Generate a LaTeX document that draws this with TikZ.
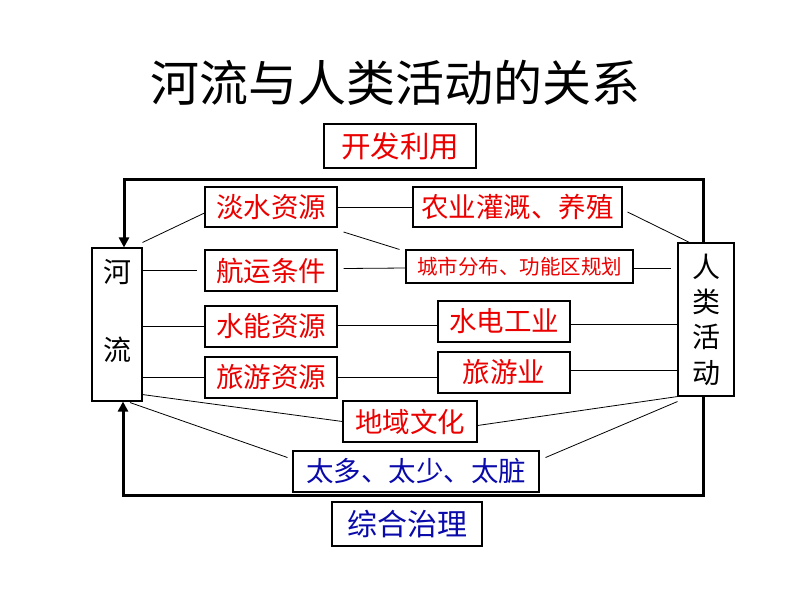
\documentclass[tikz,border=0pt]{standalone}
\usepackage{fontspec}
\setmainfont{Noto Sans CJK SC}
\newfontfamily\cjk{Noto Sans CJK SC}
\usetikzlibrary{calc,arrows.meta}
\definecolor{tred}{RGB}{235,0,0}
\definecolor{tblue}{RGB}{10,10,170}
\tikzset{
  box/.style={draw=black, line width=1.1pt, inner sep=0pt, anchor=center, font=\cjk\fontsize{27.5}{30}\selectfont},
  redbox/.style={box, text=tred},
  bluebox/.style={box, text=tblue},
  link/.style={draw=black, line width=0.8pt},
  heavy/.style={draw=black, line width=3pt},
  lbl/.style={inner sep=0pt, font=\cjk\fontsize{28}{30}\selectfont}
}
\begin{document}
\begin{tikzpicture}[x=1pt,y=-1pt]
\useasboundingbox[fill=white] (0,0) rectangle (800,600);

\node[inner sep=0pt, font=\cjk\fontsize{49}{52}\selectfont] (title) at (395,83) {河流与人类活动的关系};

\node[redbox, minimum width=152pt, minimum height=44pt, font=\cjk\fontsize{29.5}{32}\selectfont] (kf) at (400,146) {开发利用};

\node[redbox, minimum width=132pt, minimum height=40pt] (dsz) at (271,207) {淡水资源};
\node[redbox, minimum width=132pt, minimum height=41pt] (hy) at (271,270.5) {航运条件};
\node[redbox, minimum width=132pt, minimum height=41pt] (sn) at (271,326.5) {水能资源};
\node[redbox, minimum width=132pt, minimum height=41pt] (ly) at (271,377.5) {旅游资源};

\node[redbox, minimum width=209pt, minimum height=40pt] (ny) at (517.5,207) {农业灌溉、养殖};
\node[redbox, minimum width=227pt, minimum height=33pt, font=\cjk\fontsize{20.5}{22}\selectfont] (cs) at (519.5,266.5) {城市分布、功能区规划};
\node[redbox, minimum width=132pt, minimum height=41pt] (sd) at (504,321.5) {水电工业};
\node[redbox, minimum width=132pt, minimum height=41pt] (lyy) at (504,372.5) {旅游业};

\node[redbox, minimum width=134pt, minimum height=41pt] (dy) at (410,421.5) {地域文化};
\node[bluebox, minimum width=246pt, minimum height=41pt] (td) at (416,471.5) {太多、太少、太脏};
\node[bluebox, minimum width=150pt, minimum height=44pt, font=\cjk\fontsize{30}{32}\selectfont] (zh) at (407,524) {综合治理};

\node[box, minimum width=50pt, minimum height=153pt] (he) at (117,324.5) {};
\node[lbl] (he1) at (117,272) {河};
\node[lbl] (he2) at (117,350) {流};

\node[box, minimum width=56pt, minimum height=153pt, align=center, font=\cjk\fontsize{28}{35.3}\selectfont] (rl) at (706,319.5) {人\\类\\活\\动};

% thin connectors
\draw[link] ($(he.north east)+(0,-5)$) -- ($(dsz.west)+(0,6)$);
\draw[link] (dsz.east) -- (ny.west);
\draw[link] ($(dsz.east)+(6,25)$) -- ($(cs.north west)+(-6,0)$);
\draw[link] (he.east |- hy.west) -- ($(hy.west)+(-7,0)$);
\draw[link] ($(hy.east)+(6,-2)$) -- ($(cs.west)+(0,1.5)$);
\draw[link] ($(cs.east)+(0,1.5)$) -- ($(rl.west |- cs.east)+(-6,1.5)$);
\draw[link] ($(ny.east)+(5,5)$) -- ($(rl.north west)+(12,0)$);
\draw[link] (he.east |- sn.west) -- (sn.west);
\draw[link] ($(sn.east)+(0,-1.5)$) -- ($(sd.west)+(0,3.5)$);
\draw[link] ($(sd.east)+(0,3)$) -- ($(rl.west |- sd.east)+(0,3)$);
\draw[link] (he.east |- ly.west) -- (ly.west);
\draw[link] (ly.east) -- (lyy.west |- ly.east);
\draw[link] ($(lyy.east)+(0,-2)$) -- ($(rl.west |- lyy.east)+(0,-2)$);
\draw[link] ($(he.south east)+(0,-7)$) -- (dy.west);
\draw[link] ($(dy.east)+(0,4)$) -- (rl.south west);
\draw[link] ($(he.south)+(13,1)$) -- ($(td.west)+(-5,-14)$);
\draw[link] ($(td.east)+(6,-14)$) -- ($(rl.south west)+(0,5)$);

% heavy loop lines
\coordinate (tl) at (124,179.5);
\coordinate (tr) at (703,179.5);
\coordinate (bl) at (123,495);
\coordinate (br) at (703,495);
\draw[heavy, line cap=rect, -{Triangle[length=10pt,width=10pt]}] (tr |- rl.north) -- (tr) -- (tl) -- (tl |- he.north);
\draw[heavy, line cap=rect, -{Triangle[length=10pt,width=10pt]}] (br |- rl.south) -- (br) -- (bl) -- (bl |- he.south);
\end{tikzpicture}
\end{document}
